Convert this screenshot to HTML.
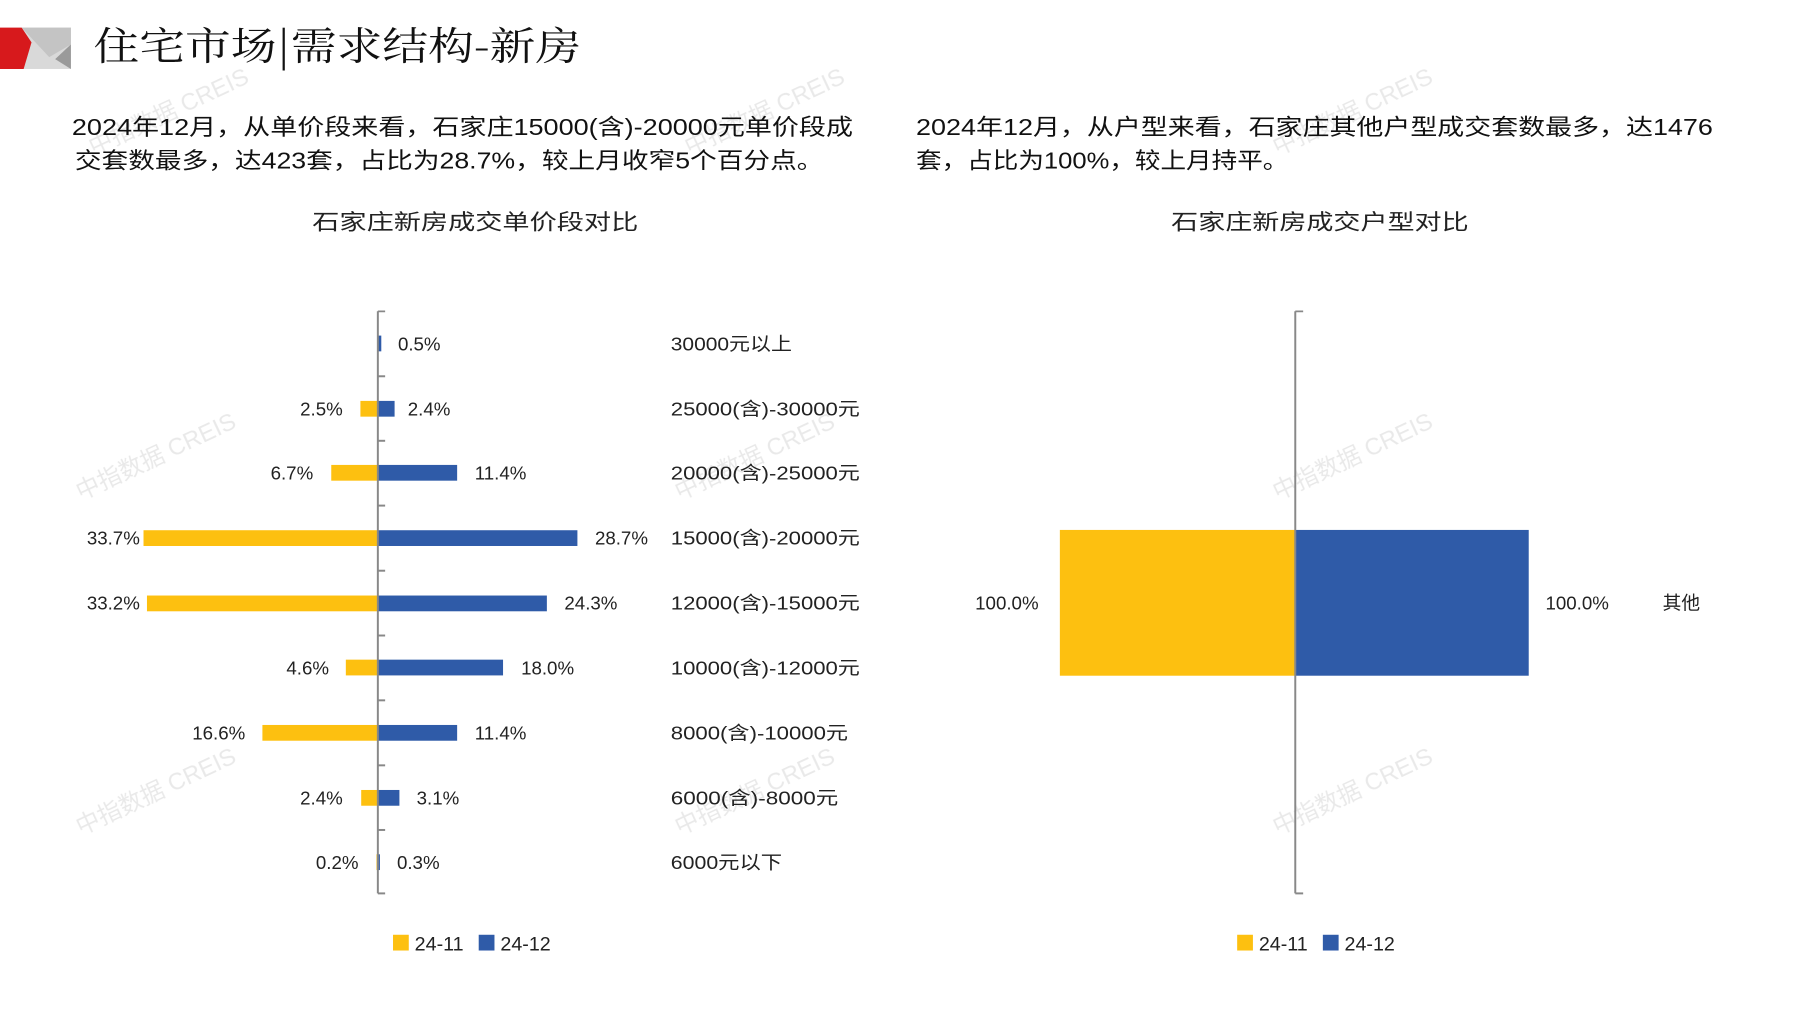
<!DOCTYPE html>
<html><head><meta charset="utf-8"><style>
html,body{margin:0;padding:0;background:#fff;}
svg{display:block;}
text{font-family:"Liberation Sans","Noto Sans CJK SC",sans-serif;}
.cj{font-family:"Noto Serif CJK SC","Liberation Serif",serif;}
</style></head><body>
<svg width="1797" height="1010" viewBox="0 0 1797 1010" xmlns="http://www.w3.org/2000/svg">
<rect width="1797" height="1010" fill="#fff"/>
<g transform="scale(0.985)">
<!-- logo -->
<rect x="0" y="28" width="72" height="42" fill="#d9d9d9"/>
<polygon points="22,28 72,28 72,45 50,58" fill="#c4c4c4"/>
<polygon points="72,45 72,70 56,60" fill="#9a9a9a"/>
<polygon points="0,28 22,28 32,43 24,70 0,70" fill="#d7191c"/>
<text x="95" y="61" font-size="40" class="cj" fill="#111" textLength="495" lengthAdjust="spacingAndGlyphs">住宅市场|需求结构-新房</text>
<!-- paragraphs -->
<g font-size="23" fill="#111">
<text x="73" y="137" textLength="793" lengthAdjust="spacingAndGlyphs">2024年12月，从单价段来看，石家庄15000(含)-20000元单价段成</text>
<text x="76" y="171" textLength="760" lengthAdjust="spacingAndGlyphs">交套数最多，达423套，占比为28.7%，较上月收窄5个百分点。</text>
<text x="930" y="137" textLength="809" lengthAdjust="spacingAndGlyphs">2024年12月，从户型来看，石家庄其他户型成交套数最多，达1476</text>
<text x="930" y="171" textLength="378" lengthAdjust="spacingAndGlyphs">套，占比为100%，较上月持平。</text>
</g>
<g font-size="22" fill="#222">
<text x="317" y="233" textLength="331" lengthAdjust="spacingAndGlyphs">石家庄新房成交单价段对比</text>
<text x="1189" y="233" textLength="302" lengthAdjust="spacingAndGlyphs">石家庄新房成交户型对比</text>
</g>
<!-- watermarks -->
<g font-size="24" fill="#000" opacity="0.09">
<text transform="translate(82,508) rotate(-25)">中指数据 CREIS</text>
<text transform="translate(82,848) rotate(-25)">中指数据 CREIS</text>
<text transform="translate(690,508) rotate(-25)">中指数据 CREIS</text>
<text transform="translate(690,848) rotate(-25)">中指数据 CREIS</text>
<text transform="translate(1297,508) rotate(-25)">中指数据 CREIS</text>
<text transform="translate(1297,848) rotate(-25)">中指数据 CREIS</text>
<text transform="translate(95,158) rotate(-25)">中指数据 CREIS</text>
<text transform="translate(700,158) rotate(-25)">中指数据 CREIS</text>
<text transform="translate(1297,158) rotate(-25)">中指数据 CREIS</text>
</g>
<!-- left chart -->
<g fill="#fdc010">
<rect x="365.9" y="407" width="17.7" height="16"/>
<rect x="336.3" y="472" width="47.3" height="16"/>
<rect x="145.7" y="538.3" width="237.9" height="16"/>
<rect x="149.2" y="604.6" width="234.4" height="16"/>
<rect x="351.1" y="669.7" width="32.5" height="16"/>
<rect x="266.4" y="736" width="117.2" height="16"/>
<rect x="366.7" y="802" width="16.9" height="16"/>
<rect x="382.2" y="867.3" width="1.4" height="16"/>
</g>
<g fill="#2f5ba8">
<rect x="383.6" y="340.7" width="3.5" height="16"/>
<rect x="383.6" y="407" width="17" height="16"/>
<rect x="383.6" y="472" width="80.5" height="16"/>
<rect x="383.6" y="538.3" width="202.6" height="16"/>
<rect x="383.6" y="604.6" width="171.6" height="16"/>
<rect x="383.6" y="669.7" width="127.1" height="16"/>
<rect x="383.6" y="736" width="80.5" height="16"/>
<rect x="383.6" y="802" width="21.9" height="16"/>
<rect x="383.6" y="867.3" width="2.1" height="16"/>
</g>
<line x1="383.6" y1="316" x2="383.6" y2="907" stroke="#888" stroke-width="2"/>
<g stroke="#888" stroke-width="2">
<line x1="383.6" y1="316" x2="391" y2="316"/><line x1="383.6" y1="382" x2="391" y2="382"/>
<line x1="383.6" y1="447.5" x2="391" y2="447.5"/><line x1="383.6" y1="513.3" x2="391" y2="513.3"/>
<line x1="383.6" y1="579.4" x2="391" y2="579.4"/><line x1="383.6" y1="645.2" x2="391" y2="645.2"/>
<line x1="383.6" y1="711" x2="391" y2="711"/><line x1="383.6" y1="777" x2="391" y2="777"/>
<line x1="383.6" y1="842.6" x2="391" y2="842.6"/><line x1="383.6" y1="907" x2="391" y2="907"/>
</g>
<g font-size="19" fill="#222">
<text x="404" y="356">0.5%</text>
<text x="414" y="422">2.4%</text>
<text x="482" y="487">11.4%</text>
<text x="604" y="553">28.7%</text>
<text x="573" y="619">24.3%</text>
<text x="529" y="685">18.0%</text>
<text x="482" y="751">11.4%</text>
<text x="423" y="817">3.1%</text>
<text x="403" y="882">0.3%</text>
</g>
<g font-size="19" fill="#222" text-anchor="end">
<text x="348" y="422">2.5%</text>
<text x="318" y="487">6.7%</text>
<text x="142" y="553">33.7%</text>
<text x="142" y="619">33.2%</text>
<text x="334" y="685">4.6%</text>
<text x="249" y="751">16.6%</text>
<text x="348" y="817">2.4%</text>
<text x="364" y="882">0.2%</text>
</g>
<g font-size="19" fill="#222" lengthAdjust="spacingAndGlyphs">
<text x="681" y="356" textLength="123" lengthAdjust="spacingAndGlyphs">30000元以上</text>
<text x="681" y="422" textLength="192" lengthAdjust="spacingAndGlyphs">25000(含)-30000元</text>
<text x="681" y="487" textLength="192" lengthAdjust="spacingAndGlyphs">20000(含)-25000元</text>
<text x="681" y="553" textLength="192" lengthAdjust="spacingAndGlyphs">15000(含)-20000元</text>
<text x="681" y="619" textLength="192" lengthAdjust="spacingAndGlyphs">12000(含)-15000元</text>
<text x="681" y="685" textLength="192" lengthAdjust="spacingAndGlyphs">10000(含)-12000元</text>
<text x="681" y="751" textLength="180" lengthAdjust="spacingAndGlyphs">8000(含)-10000元</text>
<text x="681" y="817" textLength="170" lengthAdjust="spacingAndGlyphs">6000(含)-8000元</text>
<text x="681" y="882" textLength="113" lengthAdjust="spacingAndGlyphs">6000元以下</text>
</g>
<rect x="399" y="949" width="16" height="16" fill="#fdc010"/>
<text x="421" y="965" font-size="20" fill="#222">24-11</text>
<rect x="486" y="949" width="16" height="16" fill="#2f5ba8"/>
<text x="508" y="965" font-size="20" fill="#222">24-12</text>
<!-- right chart -->
<rect x="1076" y="538" width="239" height="148" fill="#fdc010"/>
<rect x="1315" y="538" width="237" height="148" fill="#2f5ba8"/>
<line x1="1315" y1="316" x2="1315" y2="907" stroke="#888" stroke-width="2"/>
<line x1="1315" y1="316" x2="1323" y2="316" stroke="#888" stroke-width="2"/>
<line x1="1315" y1="907" x2="1323" y2="907" stroke="#888" stroke-width="2"/>
<g font-size="19" fill="#222">
<text x="990" y="619">100.0%</text>
<text x="1569" y="619">100.0%</text>
<text x="1688" y="619">其他</text>
</g>
<rect x="1256" y="949" width="16" height="16" fill="#fdc010"/>
<text x="1278" y="965" font-size="20" fill="#222">24-11</text>
<rect x="1343" y="949" width="16" height="16" fill="#2f5ba8"/>
<text x="1365" y="965" font-size="20" fill="#222">24-12</text>
</g>
</svg>
</body></html>
